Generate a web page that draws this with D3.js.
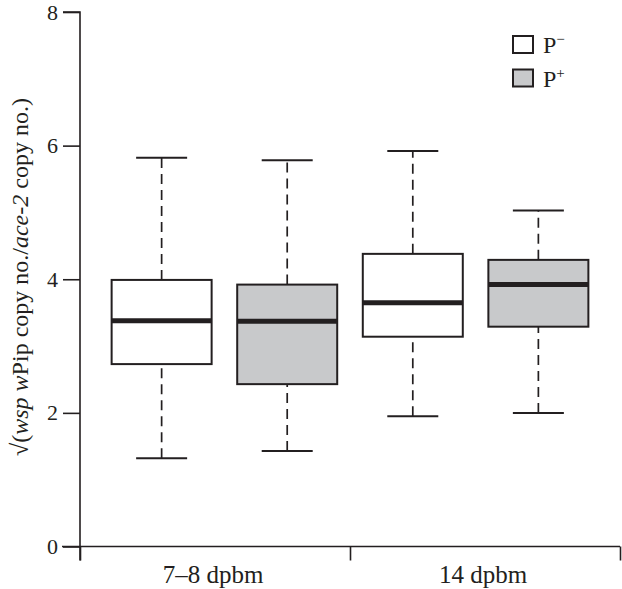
<!DOCTYPE html>
<html><head><meta charset="utf-8">
<script src="https://cdn.jsdelivr.net/npm/d3@7"></script>
<style>body{margin:0;background:#fff}svg{display:block}text{font-family:"Liberation Serif","Times New Roman",serif;fill:#231f20}</style>
</head><body><svg id="c" width="622" height="589"></svg>
<script>
const categories = ["7–8 dpbm", "14 dpbm"];
const seriesNames = ["P−", "P+"];
const boxPositions = [1, 2, 3, 4];
const boxSeries = [0, 1, 0, 1];
const lowerWhisker = [1.32, 1.43, 1.95, 2.00];
const q1 = [2.73, 2.43, 3.14, 3.29];
const median = [3.38, 3.37, 3.65, 3.92];
const q3 = [3.99, 3.92, 4.38, 4.29];
const upperWhisker = [5.82, 5.78, 5.92, 5.03];
const yTicks = [0, 2, 4, 6, 8];
const xTickPositions = [0.35, 2.5, 4.65];
const categoryLabelPositions = [1.41, 3.56];
const fills = ["#ffffff", "#c8c9cb"];

const svg = d3.select("#c");
const ink = "#231f20";
const x = d3.scaleLinear().domain([0.35, 4.65]).range([80, 620]);
const y = d3.scaleLinear().domain([0, 8]).range([546.5, 12]);
const boxW = 100, capW = 51;

// y axis
const ya = svg.append("g").attr("transform", "translate(80,0)")
  .call(d3.axisLeft(y).tickValues(yTicks).tickSize(17).tickPadding(5).tickFormat(d3.format("d")));
ya.select(".domain").attr("stroke", ink).attr("stroke-width", 1.6).attr("d", `M-17,${y(8)}H0V${y(0)+14}`);
ya.selectAll(".tick line").attr("stroke", ink).attr("stroke-width", 1.6);
ya.selectAll(".tick text").attr("font-size", 22).attr("font-family", "Liberation Serif").attr("fill", ink);

// x axis
const xa = svg.append("g").attr("transform", `translate(0,${y(0)})`)
  .call(d3.axisBottom(x).tickValues(xTickPositions).tickSize(14).tickFormat(""));
xa.select(".domain").attr("stroke", ink).attr("stroke-width", 1.6).attr("d", `M62,0H${x(4.65)}`);
xa.selectAll(".tick line").attr("stroke", ink).attr("stroke-width", 1.6);
svg.append("g").selectAll("text").data(categories).join("text")
  .attr("x", (d, i) => x(categoryLabelPositions[i])).attr("y", 583)
  .attr("text-anchor", "middle").attr("font-size", 25).text(d => d);

// boxes
const g = svg.append("g");
boxPositions.forEach((p, i) => {
  const cx = x(p);
  [[q3[i], upperWhisker[i]], [lowerWhisker[i], q1[i]]].forEach(([a, b]) => {
    g.append("line").attr("x1", cx).attr("x2", cx).attr("y1", y(a)).attr("y2", y(b))
      .attr("stroke", ink).attr("stroke-width", 1.7).attr("stroke-dasharray", "10,6");
  });
  [upperWhisker[i], lowerWhisker[i]].forEach(v => {
    g.append("line").attr("x1", cx - capW / 2).attr("x2", cx + capW / 2).attr("y1", y(v)).attr("y2", y(v))
      .attr("stroke", ink).attr("stroke-width", 2);
  });
  g.append("rect").attr("x", cx - boxW / 2).attr("width", boxW)
    .attr("y", y(q3[i])).attr("height", y(q1[i]) - y(q3[i]))
    .attr("fill", fills[boxSeries[i]]).attr("stroke", ink).attr("stroke-width", 2);
  g.append("line").attr("x1", cx - boxW / 2).attr("x2", cx + boxW / 2).attr("y1", y(median[i])).attr("y2", y(median[i]))
    .attr("stroke", ink).attr("stroke-width", 5);
});

// legend
const lg = svg.append("g");
seriesNames.forEach((s, i) => {
  const ly = 36 + i * 33.5;
  lg.append("rect").attr("x", 513).attr("y", ly).attr("width", 20).attr("height", 17)
    .attr("fill", fills[i]).attr("stroke", ink).attr("stroke-width", 2);
  const t = lg.append("text").attr("x", 543).attr("y", ly + 17).attr("font-size", 24);
  t.append("tspan").text("P");
  t.append("tspan").attr("font-size", 15).attr("dy", -9).text(s.slice(1));
});

// y label
const yl = svg.append("text").attr("transform", "translate(28,277) rotate(-90)")
  .attr("text-anchor", "middle").attr("font-size", 24);
[["√(", false], ["wsp", true], [" ", false], ["w", true], ["Pip copy no./", false], ["ace-2", true], [" copy no.)", false]]
  .forEach(([t, it]) => yl.append("tspan").attr("font-style", it ? "italic" : "normal").text(t));
</script></body></html>
